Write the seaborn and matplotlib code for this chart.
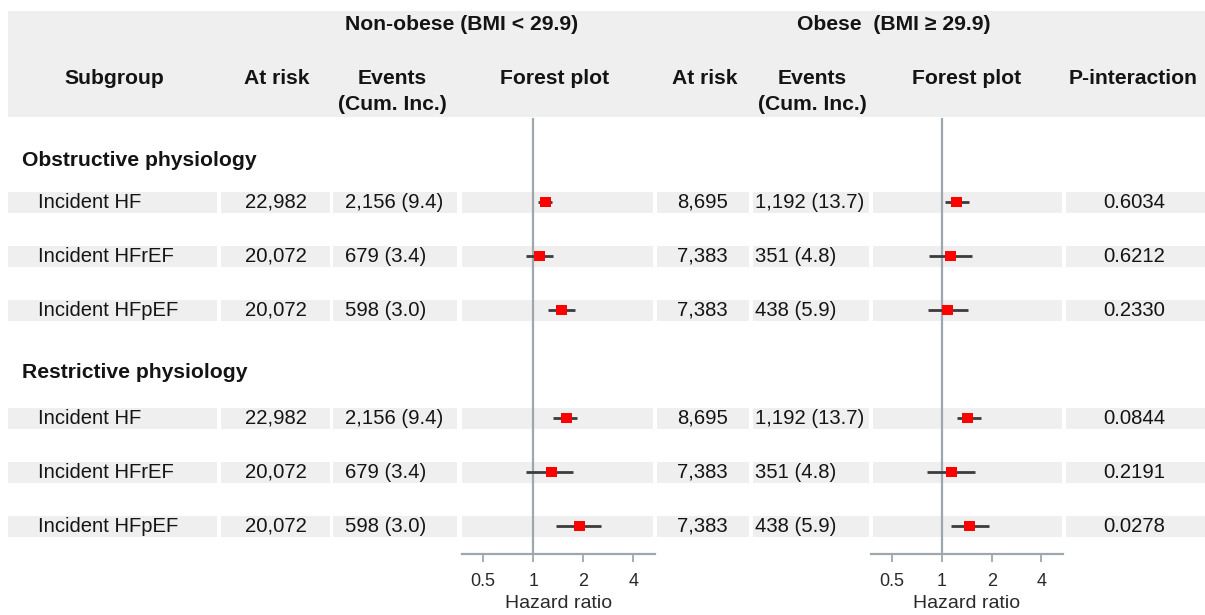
import matplotlib
matplotlib.use("Agg")
import matplotlib.pyplot as plt
from matplotlib.patches import Rectangle
import seaborn as sns
import pandas as pd

# data
groups = ["Obstructive physiology", "Restrictive physiology"]
subgroups = ["Incident HF", "Incident HFrEF", "Incident HFpEF"]

risk_nonobese = ["22,982", "20,072", "20,072", "22,982", "20,072", "20,072"]
events_nonobese = ["2,156 (9.4)", "679 (3.4)", "598 (3.0)", "2,156 (9.4)", "679 (3.4)", "598 (3.0)"]
hr_nonobese = [1.18, 1.09, 1.47, 1.58, 1.28, 1.89]
lo_nonobese = [1.07, 0.90, 1.23, 1.32, 0.91, 1.38]
hi_nonobese = [1.30, 1.31, 1.79, 1.84, 1.74, 2.56]

risk_obese = ["8,695", "7,383", "7,383", "8,695", "7,383", "7,383"]
events_obese = ["1,192 (13.7)", "351 (4.8)", "438 (5.9)", "1,192 (13.7)", "351 (4.8)", "438 (5.9)"]
hr_obese = [1.23, 1.13, 1.08, 1.43, 1.14, 1.47]
lo_obese = [1.04, 0.84, 0.83, 1.23, 0.81, 1.13]
hi_obese = [1.45, 1.53, 1.43, 1.72, 1.59, 1.93]

p_interaction = ["0.6034", "0.6212", "0.2330", "0.0844", "0.2191", "0.0278"]

tick_vals = [0.5, 1, 2, 4]
tick_labels = ["0.5", "1", "2", "4"]

# ------------------------------------------------------------
# layout (pixel coordinates of the 1205 x 615 canvas)
# ------------------------------------------------------------
W, H = 1205, 615
group_y = [161, 372]
row_y = [202, 256, 310, 418, 472, 526]
cells = [(8, 217), (221, 330), (333, 457), (462, 653),
         (657, 749), (753, 869), (873, 1062), (1066, 1205)]
forest_x = [(462, 655), (871, 1063)]
forest_top, forest_bottom = 118, 554

band = "#efefef"
txt = "#141414"
refcol = "#9ea6ae"

sns.set_theme(style="white")
plt.rcParams["font.family"] = ["Liberation Sans", "DejaVu Sans"]

fig = plt.figure(figsize=(W / 100, H / 100), dpi=100)
bg = fig.add_axes([0, 0, 1, 1])
bg.set_xlim(0, W)
bg.set_ylim(H, 0)
bg.axis("off")

# header band
bg.add_patch(Rectangle((8, 10.7), W - 8, 117 - 10.7, color=band, lw=0))

bold = dict(fontsize=15.2, fontweight="bold", color=txt, va="center")
bg.text(462, 24, "Non-obese (BMI < 29.9)", ha="center", **bold)
bg.text(894, 24, "Obese  (BMI \u2265 29.9)", ha="center", **bold)
bg.text(114, 79, "Subgroup", ha="center", **bold)
bg.text(277, 79, "At risk", ha="center", **bold)
bg.text(392, 79, "Events", ha="center", **bold)
bg.text(392, 104, "(Cum. Inc.)", ha="center", **bold)
bg.text(555, 79, "Forest plot", ha="center", **bold)
bg.text(705, 79, "At risk", ha="center", **bold)
bg.text(812, 79, "Events", ha="center", **bold)
bg.text(812, 104, "(Cum. Inc.)", ha="center", **bold)
bg.text(967, 79, "Forest plot", ha="center", **bold)
bg.text(1133, 79, "P-interaction", ha="center", **bold)

for g, gy in zip(groups, group_y):
    bg.text(22, gy, g, ha="left", **bold)

# row bands and table text
reg = dict(fontsize=14.6, color=txt, va="center")
for i, y in enumerate(row_y):
    for x0, x1 in cells:
        bg.add_patch(Rectangle((x0, y - 10.5), x1 - x0, 21, color=band, lw=0))
    bg.text(38, y, subgroups[i % 3], ha="left", **reg)
    bg.text(307, y, risk_nonobese[i], ha="right", **reg)
    bg.text(345, y, events_nonobese[i], ha="left", **reg)
    bg.text(728, y, risk_obese[i], ha="right", **reg)
    bg.text(755, y, events_obese[i], ha="left", **reg)
    bg.text(1134, y, p_interaction[i], ha="center", **reg)

# forest plots
panels = [(hr_nonobese, lo_nonobese, hi_nonobese), (hr_obese, lo_obese, hi_obese)]
for (x0, x1), (hr, lo, hi) in zip(forest_x, panels):
    ax = fig.add_axes([x0 / W, 1 - forest_bottom / H, (x1 - x0) / W,
                       (forest_bottom - forest_top) / H])
    ax.set_facecolor("none")
    df = pd.DataFrame({"hr": hr, "lo": lo, "hi": hi, "y": row_y})
    ax.axvline(1, color=refcol, lw=1.6, zorder=1)
    ax.hlines(df["y"], df["lo"], df["hi"], color="#3c3c3c", lw=2.0, zorder=2)
    sns.scatterplot(data=df, x="hr", y="y", marker="s", s=62, color="#ff0000",
                    edgecolor="none", ax=ax, zorder=3, legend=False)
    ax.set_xscale("log", base=2)
    ax.set_xlim(0.373, 5.4)
    ax.set_ylim(forest_bottom, forest_top)
    ax.set_xticks(tick_vals)
    ax.set_xticklabels(tick_labels)
    ax.minorticks_off()
    ax.set_yticks([])
    ax.set_ylabel("")
    ax.set_xlabel("Hazard ratio", fontsize=14, color="#2a2a2a", labelpad=3)
    for s in ["top", "left", "right"]:
        ax.spines[s].set_visible(False)
    ax.spines["bottom"].set_color(refcol)
    ax.spines["bottom"].set_linewidth(1.6)
    ax.tick_params(axis="x", direction="out", length=6, width=1.3, color=refcol,
                   labelsize=13, labelcolor="#2a2a2a", pad=8, bottom=True)

fig.savefig("out.png", dpi=100)
